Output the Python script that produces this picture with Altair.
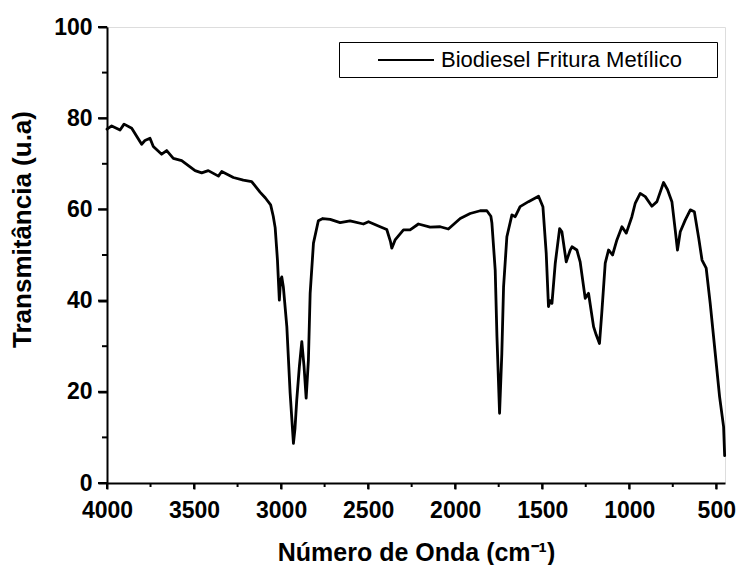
import altair as alt
import pandas as pd

# Wavenumber (cm^-1) and transmittance (u.a.)
wavenumber = [4000, 3973, 3925, 3902, 3858, 3801, 3782, 3753, 3734, 3686, 3657, 3619,
              3571, 3494, 3456, 3418, 3360, 3341, 3274, 3217, 3169, 3121, 3090, 3060,
              3045, 3034, 3021, 3010, 3003, 2996, 2987, 2967, 2948, 2929, 2920, 2910,
              2895, 2881, 2868, 2856, 2843, 2833, 2814, 2786, 2760, 2718, 2661, 2604,
              2527, 2498, 2431, 2393, 2372, 2364, 2345, 2297, 2259, 2211, 2144, 2086,
              2039, 1971, 1914, 1856, 1818, 1795, 1789, 1770, 1760, 1745, 1732, 1722,
              1703, 1674, 1655, 1627, 1579, 1521, 1496, 1477, 1464, 1455, 1444, 1425,
              1400, 1387, 1362, 1340, 1329, 1301, 1282, 1253, 1234, 1205, 1190, 1171,
              1158, 1138, 1119, 1096, 1071, 1042, 1017, 985, 966, 937, 908, 870,
              841, 803, 780, 755, 736, 723, 707, 678, 649, 626, 601, 582,
              558, 535, 506, 481, 458, 452]
transmittance = [77.6, 78.3, 77.4, 78.7, 77.8, 74.3, 75.1, 75.6, 73.8, 72.1, 72.9, 71.2,
                 70.7, 68.5, 68.0, 68.5, 67.3, 68.3, 67.0, 66.4, 66.1, 63.8, 62.5, 61.0,
                 58.5, 56.0, 49.0, 40.1, 44.5, 45.2, 43.0, 34.3, 19.7, 8.7, 12.0, 18.2,
                 25.5, 31.0, 25.5, 18.6, 27.0, 41.6, 52.6, 57.5, 58.0, 57.8, 57.1, 57.5,
                 56.8, 57.3, 56.2, 55.6, 53.0, 51.5, 53.3, 55.5, 55.5, 56.8, 56.1, 56.2,
                 55.7, 58.0, 59.1, 59.7, 59.7, 58.5, 57.0, 46.7, 32.1, 15.3, 28.4, 43.0,
                 54.0, 58.8, 58.4, 60.6, 61.7, 62.9, 60.6, 50.4, 38.7, 40.0, 39.4, 48.2,
                 55.8, 55.1, 48.5, 51.0, 51.8, 51.1, 48.5, 40.5, 41.6, 34.3, 32.5, 30.6,
                 37.2, 48.2, 51.1, 50.0, 53.3, 56.2, 54.8, 58.4, 61.3, 63.5, 62.8, 60.7,
                 61.7, 65.9, 64.3, 61.7, 55.5, 51.1, 55.1, 57.7, 59.9, 59.5, 53.7, 48.9,
                 47.1, 39.4, 28.4, 18.9, 12.3, 6.0]
series_name = "Biodiesel Fritura Metílico"

x_major = [4000, 3500, 3000, 2500, 2000, 1500, 1000, 500]
x_minor = [3750, 3250, 2750, 2250, 1750, 1250, 750]
y_major = [0, 20, 40, 60, 80, 100]
y_minor = [10, 30, 50, 70, 90]

W, H = 618, 456

df = pd.DataFrame({"wn": wavenumber, "T": transmittance, "serie": series_name})
df_xmaj = pd.DataFrame({"wn": x_major})
df_xmin = pd.DataFrame({"wn": x_minor})
df_ymaj = pd.DataFrame({"T": y_major})
df_ymin = pd.DataFrame({"T": y_minor})

FONT = "Liberation Sans"
x_scale = alt.Scale(domain=[4000, 450], nice=False, zero=False)
y_scale = alt.Scale(domain=[0, 100], nice=False)

x_axis = alt.Axis(
    orient="bottom", title="Número de Onda (cm⁻¹)", values=x_major, format="d",
    ticks=True, tickSize=6, tickWidth=2, tickColor="black", labelPadding=10,
    labelFontSize=23, labelFont=FONT, labelFontWeight="bold", labelColor="black",
    labelOverlap=False, labelFlush=False, titleFont=FONT, titleFontSize=25,
    titleFontWeight="bold", titleColor="black", titleBaseline="alphabetic", titleY=77,
    grid=False, domainColor="black", domainWidth=2,
)
y_axis = alt.Axis(
    orient="left", title="Transmitância (u.a)", values=y_major, format="d",
    ticks=True, tickSize=9, tickWidth=2, tickColor="black", labelPadding=6,
    labelFontSize=23, labelFont=FONT, labelFontWeight="bold", labelColor="black",
    labelOverlap=False, labelFlush=False, titleFont=FONT, titleFontSize=26,
    titleFontWeight="bold", titleColor="black", titleAngle=-90, titleAlign="center",
    titleBaseline="middle", titleX=-85, titleY=202, grid=False,
    domainColor="black", domainWidth=2,
)

line = alt.Chart(df).mark_line(strokeWidth=2.8, strokeJoin="round", strokeCap="round").encode(
    x=alt.X("wn:Q", scale=x_scale, axis=x_axis),
    y=alt.Y("T:Q", scale=y_scale, axis=y_axis),
    color=alt.Color(
        "serie:N",
        scale=alt.Scale(range=["black"]),
        legend=alt.Legend(
            title=None, orient="none", legendX=232, legendY=15,
            symbolType="M-4.09,0H1", symbolSize=484, symbolStrokeWidth=2,
            symbolStrokeColor="black", symbolOffset=66, labelOffset=6,
            labelFont=FONT, labelFontSize=22, labelColor="black", labelLimit=700,
            labelExpr="datum.label + '\u00a0\u00a0\u2800'", padding=6,
            strokeColor="black",
        ),
    ),
)

# outward axis tick marks, positioned along the axes through the shared scales
xmaj_ticks = alt.Chart(df_xmaj).mark_tick(
    color="black", thickness=2, size=6, orient="vertical", opacity=1
).encode(x=alt.X("wn:Q", scale=x_scale, axis=x_axis), y=alt.value(H + 3))
xmin_ticks = alt.Chart(df_xmin).mark_tick(
    color="black", thickness=2, size=4, orient="vertical", opacity=1
).encode(x=alt.X("wn:Q", scale=x_scale, axis=x_axis), y=alt.value(H + 2))
ymaj_ticks = alt.Chart(df_ymaj).mark_tick(
    color="black", thickness=2, size=9, orient="horizontal", opacity=1
).encode(y=alt.Y("T:Q", scale=y_scale, axis=y_axis), x=alt.value(-4.5))
ymin_ticks = alt.Chart(df_ymin).mark_tick(
    color="black", thickness=2, size=5, orient="horizontal", opacity=1
).encode(y=alt.Y("T:Q", scale=y_scale, axis=y_axis), x=alt.value(-2.5))

chart = alt.layer(line, xmaj_ticks, xmin_ticks, ymaj_ticks, ymin_ticks).properties(
    width=W,
    height=H,
    autosize=alt.AutoSizeParams(type="none"),
    padding={"left": 107, "top": 27, "right": 11, "bottom": 82},
).configure_view(
    stroke="black",
    strokeWidth=2,
).configure(
    background="white",
)

chart.save("out.html", embed_options={"renderer": "svg", "actions": False})
